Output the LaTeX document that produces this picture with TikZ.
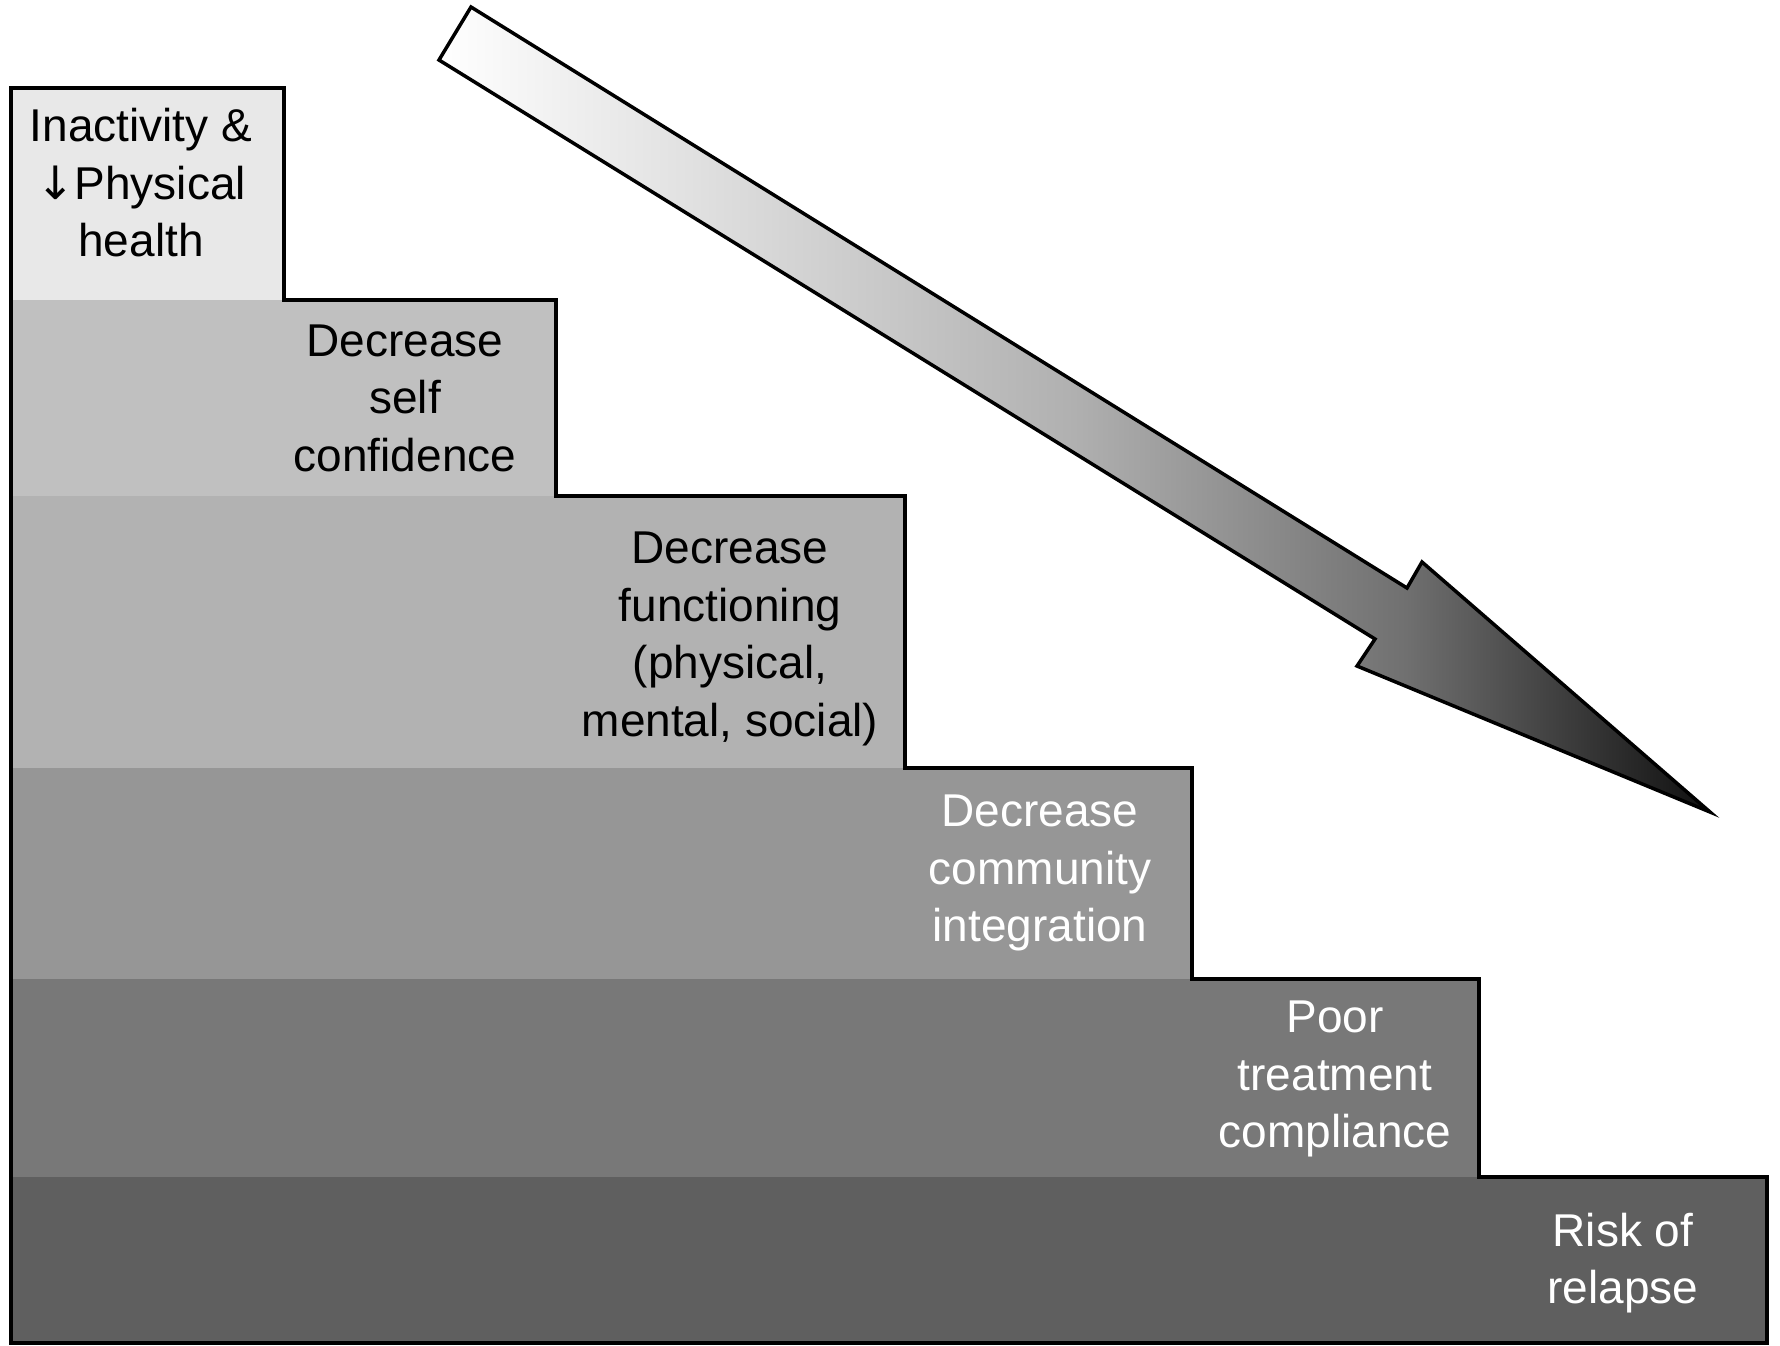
\documentclass[tikz,border=0pt]{standalone}
\usepackage{fontspec}
\setmainfont{Liberation Sans}
\newfontfamily\arrowfont{DejaVu Sans}
\pgfdeclarehorizontalshading{arrowshade}{100bp}{color(0bp)=(white); color(25bp)=(white); color(35bp)=(black!12); color(50bp)=(black!31); color(63bp)=(black!56); color(75bp)=(black!94); color(100bp)=(black!94)}
\begin{document}
\begin{tikzpicture}[x=1pt,y=-1pt,
  outline/.style={draw=black,line width=4.5pt,line join=miter},
  lbl/.style={align=center,inner sep=0pt,font=\fontsize{46}{57.5}\selectfont},
  dark/.style={lbl,text=white}]
\useasboundingbox (0,0) rectangle (1780,1345);
% step bands
\fill[fill={rgb,255:red,232;green,232;blue,232}] (11,88) rectangle (284,300);
\fill[fill={rgb,255:red,192;green,192;blue,192}] (11,300) rectangle (556,496);
\fill[fill={rgb,255:red,178;green,178;blue,178}] (11,496) rectangle (905,768);
\fill[fill={rgb,255:red,150;green,150;blue,150}] (11,768) rectangle (1192,979);
\fill[fill={rgb,255:red,120;green,120;blue,120}] (11,979) rectangle (1479,1177);
\fill[fill={rgb,255:red,95;green,95;blue,95}] (11,1177) rectangle (1767,1343);
% staircase outline
\draw[outline] (11,1343) -- (11,88) -- (284,88) -- (284,300) -- (556,300) -- (556,496)
  -- (905,496) -- (905,768) -- (1192,768) -- (1192,979) -- (1479,979) -- (1479,1177)
  -- (1767,1177) -- (1767,1343) -- cycle;
% big arrow
\draw[line width=3.5pt,line join=miter,shading=arrowshade]
  (471,7) -- (1407,588) -- (1422,562) -- (1710,812) -- (1357,666) -- (1375,639) -- (439,60) -- cycle;
% labels
\node[lbl] (t1) at (141,183) {Inactivity \&\\{\arrowfont ↓}Physical\\health};
\node[lbl] (t2) at (405,398) {Decrease\\self\\confidence};
\node[lbl] (t3) at (730,639) {Decrease\\functioning\\(physical,\\mental, social)};
\node[dark] (t4) at (1040,873) {Decrease\\community\\integration};
\node[dark] (t5) at (1335,1079) {Poor\\treatment\\compliance};
\node[dark] (t6) at (1623,1263) {Risk of\\relapse};
\end{tikzpicture}
\end{document}
